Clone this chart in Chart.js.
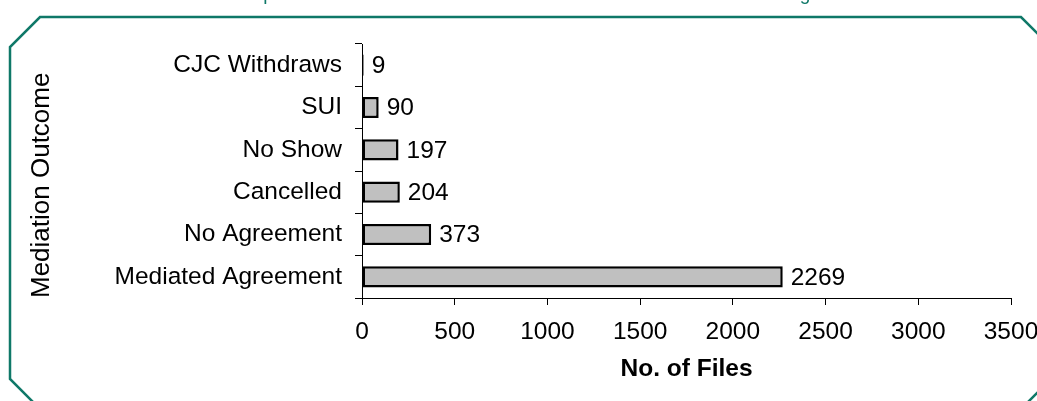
<!DOCTYPE html>
<html>
<head>
<meta charset="utf-8">
<title>Mediation Outcome</title>
<script src="https://cdn.jsdelivr.net/npm/chart.js@4/dist/chart.umd.min.js"></script>
<style>
  html, body { margin: 0; padding: 0; background: #ffffff; overflow: hidden; }
  #wrap { width: 1037px; height: 401px; }
</style>
</head>
<body>
<div id="wrap"><canvas id="chart" width="1037" height="401"></canvas></div>
<script>
// Mediation outcomes, number of files per outcome
const outcomes = ['CJC Withdraws', 'SUI', 'No Show', 'Cancelled', 'No Agreement', 'Mediated Agreement'];
const fileCounts = [9, 90, 197, 204, 373, 2269];
const xTicks = [0, 500, 1000, 1500, 2000, 2500, 3000, 3500];

const chartTitle = 'Completed Mediation Files and Their Outcomes in the Mediation Program';
const xTitle = 'No. of Files';
const yTitle = 'Mediation Outcome';

const FONT = "'Liberation Sans', Arial, Helvetica, sans-serif";
const TEAL = '#0f7868';

// Chamfered frame plus the heading above it
const framePlugin = {
  id: 'frame',
  beforeDraw(chart) {
    const ctx = chart.ctx;
    ctx.save();
    ctx.fillStyle = '#ffffff';
    ctx.fillRect(0, 0, chart.width, chart.height);
    const L = 10, T = 17, R = 1051, B = 409, c = 30;
    ctx.beginPath();
    ctx.moveTo(L + c, T);
    ctx.lineTo(R - c, T);
    ctx.lineTo(R, T + c);
    ctx.lineTo(R, B - c);
    ctx.lineTo(R - c, B);
    ctx.lineTo(L + c, B);
    ctx.lineTo(L, B - c);
    ctx.lineTo(L, T + c);
    ctx.closePath();
    ctx.lineWidth = 2.5;
    ctx.strokeStyle = TEAL;
    ctx.stroke();

    ctx.font = '19px ' + FONT;
    ctx.fillStyle = TEAL;
    ctx.textAlign = 'center';
    ctx.textBaseline = 'alphabetic';
    ctx.fillText(chartTitle, 533, -0.5);
    ctx.restore();
  }
};

// Value written just past the end of each bar
const valueLabels = {
  id: 'valueLabels',
  afterDatasetsDraw(chart) {
    const ctx = chart.ctx;
    const meta = chart.getDatasetMeta(0);
    const data = chart.data.datasets[0].data;
    ctx.save();
    ctx.font = '24.5px ' + FONT;
    ctx.fillStyle = '#000000';
    ctx.textAlign = 'left';
    ctx.textBaseline = 'middle';
    meta.data.forEach((bar, i) => {
      ctx.fillText(String(data[i]), bar.x + 8, bar.y + 1);
    });
    ctx.restore();
  }
};

new Chart(document.getElementById('chart'), {
  type: 'bar',
  data: {
    labels: outcomes,
    datasets: [{
      data: fileCounts,
      backgroundColor: '#c0c0c0',
      borderColor: '#000000',
      borderWidth: 2.5,
      borderSkipped: false,
      barPercentage: 0.5,
      categoryPercentage: 1.0
    }]
  },
  options: {
    indexAxis: 'y',
    responsive: false,
    animation: false,
    events: [],
    layout: { padding: { left: 0, top: 44, right: 0, bottom: 0 } },
    plugins: {
      legend: { display: false },
      tooltip: { enabled: false },
      title: { display: false }
    },
    scales: {
      x: {
        type: 'linear',
        min: 0,
        max: 3500,
        afterBuildTicks(scale) { scale.ticks = xTicks.map(v => ({ value: v })); },
        afterFit(scale) {
          scale.height = 103;
          scale.paddingLeft = 0;
          scale.paddingRight = 26;
        },
        ticks: {
          color: '#000000',
          font: { family: FONT, size: 24.5 },
          padding: 13,
          maxRotation: 0,
          autoSkip: false,
          callback: (v) => String(v)
        },
        grid: {
          display: true,
          drawOnChartArea: false,
          drawTicks: true,
          tickLength: 7,
          tickColor: '#000000',
          tickWidth: 1
        },
        border: { display: true, color: '#000000', width: 1 },
        title: {
          display: true,
          text: xTitle,
          color: '#000000',
          font: { family: FONT, size: 24.5, weight: 'bold' },
          padding: { top: 0, bottom: 17 }
        }
      },
      y: {
        type: 'category',
        afterFit(scale) { scale.width = 362; },
        ticks: {
          color: '#000000',
          font: { family: FONT, size: 24.5 },
          padding: 13,
          autoSkip: false
        },
        grid: {
          display: true,
          offset: true,
          drawOnChartArea: false,
          drawTicks: true,
          tickLength: 7,
          tickColor: '#000000',
          tickWidth: 1
        },
        border: { display: true, color: '#000000', width: 1 },
        title: {
          display: true,
          text: yTitle,
          align: 'start',
          color: '#000000',
          font: { family: FONT, size: 26 },
          padding: { top: 26, bottom: 0 }
        }
      }
    }
  },
  plugins: [framePlugin, valueLabels]
});
</script>
</body>
</html>
